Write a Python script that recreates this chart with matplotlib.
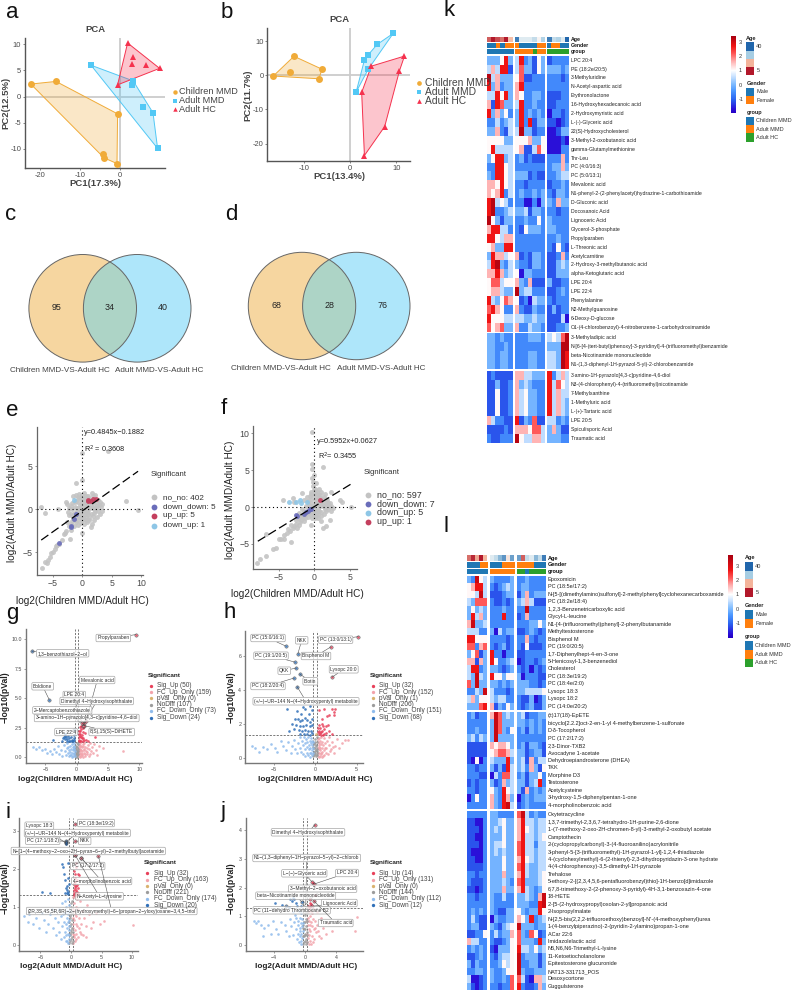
import matplotlib
matplotlib.use('Agg')
import matplotlib.pyplot as plt
import numpy as np
from matplotlib.colors import LinearSegmentedColormap, Normalize, to_rgba
from matplotlib.cm import ScalarMappable
from matplotlib.lines import Line2D
from matplotlib.patches import Circle, Rectangle

plt.rcParams['font.family'] = ['Liberation Sans', 'DejaVu Sans']
W, H = 792, 992
fig = plt.figure(figsize=(7.92, 9.92), dpi=100)

# ---------- PCA ----------
a_children = [(-22.3, 2.4), (-16, 2.9), (-0.6, -3.3), (-0.75, -12.8), (-4, -11.7), (-4.2, -11)]
a_mmd = [(-7.25, 6), (3.3, 3), (8.25, -3.1), (9.4, -9.9), (3, 2.3), (5.8, -1.9)]
a_hc = [(1.9, 10.25), (9.9, 5.4), (-0.6, 2.25), (3.3, 7.6), (3.1, 6.15), (6.4, 6.1)]
a_hulls = [5, 4, 3]
b_children = [(-16.7, -0.2), (-12.2, 5.6), (-6.1, 1.8), (-6.8, -1), (-13, 1)]
b_mmd = [(1.3, -4.9), (3.1, 4.5), (3.8, 5.85), (5.9, 9.1), (9.35, 12.3), (3.9, 1.75)]
b_hc = [(4.6, 2.7), (11.8, 5.65), (10.7, 1.3), (7.5, -15), (3.1, -23.5), (2.5, -5)]
b_hulls = [4, 6, 6]
pca_groups = ['Children MMD', 'Adult MMD', 'Adult HC']

# ---------- Venn ----------
venn_c = [95, 34, 40]
venn_d = [68, 28, 76]
venn_names = ['Children MMD-VS-Adult HC', 'Adult MMD-VS-Adult HC']

# ---------- Correlation scatter ----------
e_grey = [(-6.9,-6.8),(-6.4,-6.1),(-6.1,-6.3),(-5.9,-5.9),(-5.5,-5.5),(-5.3,-5.1),(-5,-5),(-4.7,-4.6),(-4.5,-4.3),(-4.3,-4.1),
(-4,-4),(-3.5,-3.6),(-3.2,-2.9),(-3,-2.7),(-2.8,-2.5),(-2.1,-3.5),(-2,-2.4),(-2.3,-1.9),(-2.6,-1.5),(-7.1,.3),(-6.3,-.4),(-4.2,0),
(9.5,-.05),(7.5,1),(0,6.5),(4.3,6.8),(-1.1,3),(-.1,3.4),(-.1,-2.8),(-1.2,-1.2),(-2.8,.8),(-2.6,.6),(-1.6,1.5),(-1,1.7),(-.6,1.8),(0,1.7),
(.3,1.9),(.6,1.5),(1,1.6),(1.6,1.9),(1.8,1.5),(2.2,1.7),(2.6,1.1),(3,.9),(3.2,.3),(3.4,-.2),(3,-.5),(2.5,-.9),(2,-1.2),(1.6,-1.7),
(1.5,-2.1),(.8,-1.5),(.3,-1.7),(-.2,-1.6),(-.7,-1.8),(-1.1,-1.5),(-1.7,-1.4),(-.8,.9),(-.4,.5),(-.1,.9),(.2,.3),(.4,.8),(.7,.4),(1,.1),
(1.4,.5),(1.7,.2),(2,.6),(2.4,.1),(2.7,-.2),(2,-.4),(1.5,-.5),(1,-.6),(.6,-.9),(.2,-.4),(-.2,-.2),(-.5,-.5),(-.9,-.2),(-1.2,.3),(-1.5,-.6),
(-1.8,0),(-2,.4),(-2.2,-.7),(-1.6,-1),(-.9,-.9),(-.3,-1),(.1,-.9),(.5,-.2),(.9,-.1),(1.3,1.1),(.1,1.2),(-.5,1.3),(-1.1,1),(.8,1),(2.8,.5),(3.4,.6),
(-.6,.1),(-.3,.2),(0,.5),(.3,.6),(.6,.7),(1.1,.9),(1.5,.9),(1.9,1),(2.3,.8),(.2,1),(-.2,1.3),(-.7,1.4),(-1.3,.8),(-1.7,.7),(-2.2,.2),(-2.5,-.3),(-1.9,-.5),(-1.3,-.4),(-.9,.2),(-.6,-.9),(-.1,-1.2),(.3,-1.1),(.7,-.5),(1.2,-1),(1.8,-.8),(2.2,-.2),(2.5,.4),(1.2,.3),(.8,-.3),(.4,.1),(.1,-.1),(-.3,-.6),(-.7,-1.2),(-1.4,-1.9),(-1.9,-1.7),(.6,-1.3),(1.1,-1.3),(1.9,.2),(.5,1.3),(1,1.3)]
e_down = [(-2,-2),(-1.9,-2.1),(-3.9,-3.9),(-1.4,-1.1),(-1,-.6)]
e_upup = [(1,1),(.9,1.1),(1.8,1.2),(2.3,1.2),(1.4,1)]
e_downup = [(-1.5,1.1)]
e_line = [(-7,-3.58),(9.5,4.42)]
f_grey = [(-8,-7.6),(-7.6,-7),(-6.8,-6.6),(-5.8,-5.7),(-5.3,-5.6),(-4.9,-4.4),(-4.6,-4.4),(-4.2,-4.4),(-6.8,-3.7),(-3.3,-4.7),(-.3,10.2),(-.3,5.8),
(-.3,5.2),(1.2,5.5),(5.2,0),(3.6,1),(3.9,.7),(2.3,2.1),(-4.4,.9),(-3,1.2),(-3.8,-3.5),(-3.4,-3.2),(-3,-2.9),(-2.8,-2.6),(-2.5,-2.3),(-2.2,-2.5),
(-2,-2),(-1.8,-1.7),(-1.6,-1.4),(-1.3,-1.5),(-1.1,-1),(-.9,-.8),(-.6,-.7),(-.5,-2.4),(-.3,-1.5),(-.2,-.4),(0,-.9),(.2,-1.2),(.5,-1.5),(.9,-1.9),
(1.2,-2.9),(1.7,-2.6),(2.2,-1.7),(2.3,-.6),(2.6,-.1),(2,.2),(1.6,.4),(1.2,.7),(.8,1.2),(.5,1.6),(.2,1.9),(-.1,2.3),(-.2,2.9),(-.2,3.4),(.3,3.2),
(.6,2.4),(1,2.1),(1.3,1.4),(1.8,1),(2.2,.5),(1.5,-.3),(1,-.7),(.5,-.3),(.1,.3),(-.4,.6),(-.8,.3),(-1.2,.2),(-1.7,-.3),(-2.1,-.8),(-1.4,-.6),(-.7,-.2),
(-2.9,.7),(-1.7,1.9),(-1,1.3),(-.5,1.1),(.1,.9),(.4,.4),(.8,.1),(1.2,.1),(1.7,-.6),(.4,-.7),(-.1,-.3),(-.4,-1.1),(-.9,-1.3),(-1.5,-1.9),(-3.7,-3),(.7,.7),(.2,1.4),(-.2,1.6),(-.6,1.5),(1.5,1.8),(.9,-1.2),(-.1,4.3),(-.3,3.9),
(-.2,.2),(.2,.6),(.5,.9),(.9,.5),(1.4,.2),(1.9,-.2),(1.3,-.9),(.7,-.6),(.2,-.6),(-.3,-.8),(-.7,-.5),(-1,-.5),(-1.4,-1.1),(-1.8,-1.1),(-2.3,-1.5),(-2.6,-1.8),(-.5,.2),(-.9,.8),(-1.4,.9),(.4,1.1),(.8,1.7),(.1,2.5),(.4,2),(-.4,2.1),(-.4,1.8),(1.1,1.1),(1.6,1.1),(1.9,.5),(2.4,.1),(.1,-1.5),(.5,-1),(-.1,-.7),(-2,-1.4),(-3.2,-2.4),(-2.4,-2.9),(-4.3,-3.8)]
f_down = [(-2.5,-1.1),(-2.4,-1.2),(-1.5,-.9),(-1.2,-.7),(-.9,-.6),(-.6,-.3),(-.4,-.2)]
f_downup = [(-3.5,.65),(-2.5,.75),(-2,.9),(-1,.7),(-1.9,.6)]
f_upup = [(.8,1)]
f_line = [(-7.9,-4.64),(5.1,3.1)]
corr_colors = {'no_no': '#c3c3c3', 'down_down': '#6a6dba', 'up_up': '#c43f5e', 'down_up': '#8ec6e6'}

# ---------- Volcano ----------
g_sigup = [(9.5,10.4),(1.5,3.1),(1.2,2.9),(1.1,2.7),(1,2.5),(.7,2.4),(.5,2.6),(.3,2.2),(.6,2),(.9,1.9),(.5,1.8),(.8,1.6),(.4,1.5),(.6,1.4),(1,1.4),(1.3,2.1),
(1.5,1.5),(1.8,1.4),(2.9,1.75),(.35,1.35),(.45,1.95),(.55,2.25),(.75,1.75),(1.05,1.65),(1.2,1.45),(.35,1.7),(.7,1.35),(.95,2.15),(.65,2.7),(.9,2.9)]
g_fcup = [(7.4,.55),(4.2,.8),(3.6,1),(3.1,.6),(2.8,1.1),(2.6,.4),(2.4,.85),(2.2,1.2),(2.1,.3),(1.9,.7),(1.8,1.05),(1.6,.25),(1.5,.55),(1.4,.9),(1.3,.15),(1.2,.4),(1.1,.7),
(1,1.1),(.9,.2),(.85,.5),(.8,.85),(.7,.1),(.65,.35),(.6,.65),(.55,.95),(.5,1.2),(.45,.15),(.4,.45),(.35,.75),(.3,1.05),(.3,.25),(.35,.55),(.4,.9),(.5,.3),(.6,.05),(.7,.6),(.8,.3),
(.95,.95),(1.05,.05),(1.25,.6),(1.35,.3),(1.7,.45),(2,.15),(2.3,.55),(3.2,.2),(.55,.7),(.75,1),(.45,1.1),(1.15,1.2),(1.65,.8)]
g_nodiff = [(-.2,.1),(-.15,.4),(-.1,.7),(-.05,1),(0,.2),(.05,.55),(.1,.85),(.15,1.15),(.2,.3),(-.2,.6),(-.1,.15),(0,.45),(.1,.05),(.2,.7),(-.15,.9),(.05,.25),(.15,.5),(-.05,.6),(0,1.2),(-.2,.3),(.1,.35),(-.1,.05)]
g_fcdown = [(-7,.9),(-6.5,.75),(-6.1,.85),(-5.6,.6),(-5.1,.7),(-4.7,.4),(-4.3,.55),(-4,.25),(-3.7,.7),(-3.3,.45),(-3,.95),(-2.8,.3),(-2.5,.65),(-2.3,.15),(-2.1,1.05),(-1.9,.5),(-1.7,.2),(-1.6,.8),
(-1.5,1.2),(-1.4,.35),(-1.3,.6),(-1.2,.1),(-1.1,.95),(-1,.45),(-.9,.7),(-.85,.2),(-.8,1.1),(-.7,.35),(-.65,.6),(-.6,.85),(-.55,.1),(-.5,.4),(-.45,1),(-.4,.25),(-.35,.7),(-.3,.5),(-.3,.15),(-.35,1.2),(-.5,.75),(-.7,.05),(-1,.2),(-1.35,.9),(-.4,.9)]
g_sigdown = [(-7.2,9),(-4.4,4.9),(-1.9,1.8),(-1.8,1.95),(-2,1.7),(-1.7,1.75),(-1.5,1.55),(-1.3,1.6),(-1.2,1.4),(-3.8,1.45),(-2.2,1.6),(-1.9,1.55),(-1,1.35),(-.8,1.5),(-.5,1.6),(-.6,1.4),(-.35,2.3),(-1.6,1.4),(-.4,1.45),(-.9,1.7),(-1.4,1.8),(-2.3,1.4),(-.7,1.35),(-.45,1.9)]
g_labels = [('Propylparaben',113.3,638,9.5,10.4),('1,3−benzothiazol−2−ol',62.7,653.3,-7.2,9),('Mevalonic acid',97.3,680,1.5,3.1),('Boldione',42.7,686.3,-4.4,4.9),
('LPE 20:4',74.3,695,.4,3.2),('Dimethyl 4−Hydroxyisophthalate',96.7,701,1.2,2.9),('2−Mercaptobenzothiazole',62.3,710.3,.9,2.9),
('3−amino−1H−pyrazolo[4,3−c]pyridine−4,6−diol',86.7,718,1,2.7),('LPE 22:4',66,732,-.35,2.3),('8(S),15(S)−DiHETE',111.7,732,1.1,2.7)]

h_sigup = [(5.2,7.15),(1.9,6.55),(2,4.75),(2.4,2.9),(2.3,2.7),(2,2.85),(2.2,2.55),(1.7,2.5),(1.1,2.85),(.5,2.8),(1.4,2.45),(.8,2.3),(.6,1.75),(.9,1.85),(.5,1.6),(.7,1.5),(1,1.4),(1.3,1.45),(1.6,1.6),(.4,1.4),(.45,1.95),(.85,1.6),(1.1,1.7),(2,1.4),(.35,1.75),(.65,1.35),(1.25,1.9),(.75,2),(.55,1.45),(.95,1.35),(.35,1.5),(1.5,1.95)]
h_fcup = [(4,1.05),(3.6,1.05),(3.2,.85),(2.9,.55),(2.6,1.1),(2.4,.7),(2.2,.3),(2,.95),(1.9,.5),(1.7,1.2),(1.6,.75),(1.5,.2),(1.4,1),(1.3,.55),(1.2,.85),(1.1,.15),(1,1.15),(1,.45),(.95,.75),(.9,.1),(.85,.95),(.8,.35),(.75,.6),(.7,1.2),(.7,.2),(.65,.8),(.6,.45),(.6,1),(.55,.1),
(.5,.65),(.5,.3),(.45,.85),(.45,1.15),(.4,.05),(.4,.5),(.4,.75),(.35,.25),(.35,.95),(.3,.6),(.3,.1),(.3,1.1),(.55,.55),(.65,.3),(.75,.05),(1.15,.6),(1.35,.3),(1.75,.4),(2.1,.65)]
h_nodiff = [(-.25,.1),(-.2,.35),(-.15,.6),(-.1,.85),(-.05,1.1),(0,.2),(.05,.45),(.1,.7),(.15,.95),(.2,1.2),(.25,.15),(-.2,.8),(-.1,.3),(0,.55),(.1,.1),(.2,.5),(-.25,.65),(-.05,.4),(.05,.75),(.15,.25),(0,.95),(-.15,.15),(.25,.4)]
h_fcdown = [(-7.6,.7),(-7.3,.6),(-6.8,.35),(-6.3,.65),(-5.8,.5),(-5.3,.8),(-4.9,.55),(-4.6,.35),(-4.2,1),(-3.9,.7),(-3.6,.45),(-3.3,.95),(-3,.3),(-2.8,.7),(-2.6,1.05),(-2.4,.5),(-2.2,.25),(-2.1,.85),(-1.9,1.2),(-1.8,.6),
(-1.7,.35),(-1.6,1),(-1.5,.75),(-1.45,.2),(-1.4,1.25),(-1.3,.5),(-1.25,.85),(-1.2,.1),(-1.1,1.1),(-1.05,.65),(-1,.3),(-.95,.9),(-.9,.15),(-.85,1.2),(-.8,.5),(-.75,.75),(-.7,.25),(-.65,1),(-.6,.05),(-.6,.6),(-.55,.85),(-.5,.3),(-.5,1.15),(-.45,.45),(-.4,.75),(-.35,.15),(-.35,1),(-.3,.55),(-.3,.3),(-.3,.9)]
h_sigdown = [(-3.6,6.6),(-2.1,6.15),(-2.5,5.65),(-2.3,5.3),(-1.9,4.95),(-2.6,4.7),(-2.2,4.2),(-3.4,2.9),(-2.2,2.75),(-1.5,3),(-.6,3.05),(-.4,2.8),(-.8,2.6),(-1.2,2.9),(-1.7,2.6),(-2.5,2.3),(-2.1,2.3),(-1.9,2.15),(-1.6,2.2),(-1.3,2.35),(-1,2.2),(-.7,2.1),(-.4,2.3),(-2.8,2),(-2.3,1.95),(-1.8,1.9),
(-1.5,1.85),(-1.1,1.95),(-.6,1.85),(-.35,1.95),(-2.6,1.7),(-2,1.65),(-1.6,1.6),(-1.2,1.65),(-.9,1.55),(-.5,1.6),(-.35,1.45),(-3.2,1.55),(-1.9,1.4),(-1.4,1.4),(-1,1.4),(-.7,1.35)]
h_pval = [(.1,1.4)]
h_labels = [('PC (15:0/16:1)',268,638,-3.6,6.6),('NKK',301.7,640.3,-2.1,6.15),('PC (13:0/13:1)',335.7,639.7,5.2,7.15),('PC (19:1/20:5)',271,655.7,-2.5,5.65),('Bisphenol M',316,656,1.9,6.55),
('QKK',284.3,670.7,-2.3,5.3),('Lysopc 20:0',343.7,669.3,2,4.75),('Biotin',310.3,681.3,-1.9,4.95),('PC (18:2/20:4)',268,686,-2.6,4.7),('(+/−)−UR−144 N−(4−Hydroxypentyl) metabolite',306,701.3,-2.2,4.2)]

i_sigup = [(.7,3.17),(.7,2.72),(.7,2.35),(1.7,2.28),(4.5,2.33),(.9,2.05),(1.1,1.85),(1.3,1.83),(.7,1.75),(.8,1.55),(1,1.58),(.6,1.5),(.75,1.4),(.9,1.45),(1.1,1.5),(.65,1.33),(.5,1.95),(.85,1.32),(1,1.33),(.55,1.6),(.95,1.7),(1.2,1.35),(.45,1.45),(.6,1.85),(.75,2.15),(.5,1.35),(.7,1.65),(.8,1.35),(.65,1.55),(.9,1.35),(1.05,1.4),(.55,1.32)]
i_fcup = [(10.1,.53),(5.4,.62),(4.7,.55),(4.1,.85),(3.6,.6),(3.2,.45),(2.9,.8),(2.6,1.05),(2.4,.5),(2.1,.7),(2,.25),(1.8,.9),(1.6,.55),(1.5,1.15),(1.4,.35),(1.3,.7),(1.2,.95),(1.1,.2),(1,.5),(.95,1.2),(.9,.75),(.85,.3),(.8,1),(.75,.55),(.7,.1),(.65,.8),(.6,.4),(.55,1.1),(.5,.2),(.5,.65),(.45,.9),(.4,.05),(.4,.45),(.35,1.25),(.35,.7),(.3,.3),(.3,.95),(.3,.55),(.6,1.25),(.9,.15),(1.25,.45),(.45,.25),(1.7,.3),(2.5,.2)]
i_nodiff = [(-.25,.05),(-.2,.25),(-.15,.5),(-.1,.75),(-.05,1),(0,.15),(.05,.4),(.1,.65),(.15,.9),(.2,1.15),(.25,.1),(-.2,.7),(-.1,.3),(0,.55),(.1,.05),(.2,.45),(-.25,.6),(-.05,.35),(.05,.8),(.15,.2),(0,1.1),(-.15,.1),(.25,.35),(.2,.85)]
i_fcdown = [(-7.7,.75),(-7.1,.6),(-6.8,.8),(-6.2,.55),(-5.8,.7),(-5.2,.45),(-4.8,.85),(-4.4,.65),(-4.1,.35),(-3.7,.55),(-3.4,.8),(-3.1,.95),(-2.9,.45),(-2.6,.7),(-2.4,.25),(-2.2,.6),(-2,.95),(-1.9,.35),(-1.7,.75),(-1.6,.15),(-1.5,1.1),(-1.4,.5),(-1.3,.8),(-1.2,.2),(-1.1,.6),(-1.05,1.15),(-1,.35),(-.95,.85),(-.9,.1),
(-.85,.55),(-.8,1),(-.75,.25),(-.7,.7),(-.65,.45),(-.6,.1),(-.6,.9),(-.55,1.2),(-.5,.3),(-.5,.6),(-.45,.05),(-.45,.8),(-.4,1.05),(-.4,.4),(-.35,.65),(-.35,.15),(-.3,.9),(-.3,.5),(-.3,.25)]
i_sigdown = [(-.9,2.68),(-.85,2.72),(-.75,2.7),(-.8,2.65),(-1.4,2.12),(-1.3,2.05),(-1.2,1.85),(-.5,2.15),(-1,1.7),(-.5,1.75),(-.6,1.55),(-.9,1.5),(-1,1.35),(-.55,1.4),(-4.8,1.38),(-3.4,1.35),(-.7,1.35),(-.4,1.6),(-.45,1.33),(-.65,1.45)]
i_labels = [('PC (18:3e/19:2)',96,823,.7,3.17),('Lysopc 18:3',39.3,825.7,-.9,2.68),('(+/−)−UR−144 N−(4−Hydroxypentyl) metabolite',77.3,833,-.8,2.7),('PC (17:1/18:2)',42.7,840.7,-.75,2.72),('NKK',84.7,841,.7,2.72),
('N−[1−(4−methoxy−2−oxo−2H−pyran−6−yl)−2−methylbutyl]acetamide',88.3,851,.7,2.35),('PC (17:2/17:2)',87.7,866,1.7,2.28),('4−morpholinobenzoic acid',101.7,881,1.7,2.28),('N−Acetyl−L−tyrosine',99.3,896.3,.7,2.35),
('(2R,3S,4S,5R,6R)−2−(hydroxymethyl)−6−(propan−2−yloxy)oxane−3,4,5−triol',111.7,911,4.5,2.33)]

j_sigup = [(1.3,4.2),(.9,2.2),(1,2.15),(1.1,2.12),(.7,1.6),(.6,1.45),(.5,1.3),(.7,1.32),(.9,1.35),(1.1,1.55),(.4,1.35),(.8,1.42),(1.3,1.75),(.65,1.35)]
j_fcup = [(6.6,.98),(6.4,.5),(3.5,.5),(3,.75),(2.7,.4),(2.3,.6),(2,.95),(1.8,.3),(1.6,.7),(1.5,1.15),(1.4,.45),(1.3,.85),(1.2,.2),(1.15,1.25),(1.1,.55),(1.05,.9),(1,.1),(.95,.65),(.9,1.1),(.85,.3),(.8,.8),(.75,1.2),(.7,.5),(.65,.15),(.65,1),(.6,.7),(.55,.35),(.5,1.2),(.5,.85),(.45,.05),(.45,.55),(.4,.95),(.4,.25),(.35,1.15),(.35,.7),(.3,.4),(.3,.1),(.3,.85),(.8,.05),(1.25,.6),(2.1,.25),(1.7,.5)]
j_nodiff = [(-.25,.05),(-.2,.3),(-.15,.55),(-.1,.8),(-.05,1.05),(0,.15),(.05,.4),(.1,.65),(.15,.9),(.2,1.15),(.25,.1),(-.2,.7),(-.1,.3),(0,.55),(.1,.05),(.2,.45),(-.25,.6),(-.05,.35),(.05,.8),(.15,.2),(0,1.1),(-.15,.1),(.25,.35),(.2,.85)]
j_fcdown = [(-6.6,.85),(-6.3,.75),(-6,.85),(-5.7,.7),(-5.3,.6),(-5.4,.3),(-4.7,.7),(-4.4,.4),(-4.1,.85),(-3.7,.55),(-3.4,.4),(-3.1,.8),(-2.6,.7),(-2.4,.5),(-2.1,.3),(-1.9,.9),(-1.8,.65),(-1.6,1.15),(-1.5,.35),(-1.4,.8),(-1.3,1.05),(-1.2,.55),(-1.1,.95),(-1,.2),(-.95,.7),(-.9,.4),(-.85,.85),(-.8,1.2),(-.75,.1),(-.7,.6),(-.65,.3),(-.65,.95),(-.6,.5),(-.55,.75),(-.55,.15),(-.5,1.1),(-.45,.4),(-.45,.05),(-.4,.65),(-.35,.25),(-.35,.9),(-.3,.5),(-.3,.75)]
j_sigdown = [(-3.9,1.45),(-2.9,1.4),(-2.4,1.35),(-1.9,1.6),(-1.7,1.55),(-1.5,1.65),(-1.4,1.6),(-1.1,1.45),(-.4,1.5),(-.5,1.35),(-1,1.35),(-2.1,1.33)]
j_labels = [('Dimethyl 4−Hydroxyisophthalate',308,832.3,1.3,4.2),('N1−(1,3−diphenyl−1H−pyrazol−5−yl)−2−chlorob',306.7,858,.1,1.4),('L−(−)−Glyceric acid',304.3,873.3,.9,2.2),('LPC 20:4',347,873,1.1,2.12),
('3−Methyl−2−oxobutanoic acid',322.7,888.7,.7,1.6),('beta−Nicotinamide mononucleotide',295.7,895.7,-.4,1.5),('Lignoceric Acid',339.3,903,.9,1.35),('PC (11−dehydro Thromboxane B2',291.7,910.3,-2.4,1.35),('Traumatic acid',335.7,923,1.1,1.55)]

volcano_names = ['Sig_Up', 'FC_Up_Only', 'pVal_Only', 'NoDiff', 'FC_Down_Only', 'Sig_Down']
g_counts = [50, 159, 0, 107, 73, 24]
h_counts = [32, 152, 1, 206, 151, 68]
i_counts = [32, 163, 0, 221, 174, 20]
j_counts = [14, 131, 0, 144, 112, 12]
volc_colors = ['#e8405a', '#f2a3ab', '#d9b26e', '#9c9c9c', '#8fbbec', '#2f6fb8']

# ---------- Heatmap k ----------
k_rows_1 = ['LPC 20:4','PE (18:2e/20:5)','3-Methyluridine','N-Acetyl-aspartic acid','Erythronolactone','16-Hydroxyhexadecanoic acid','2-Hydroxymyristic acid','L-(-)-Glyceric acid','22(S)-Hydroxycholesterol','3-Methyl-2-oxobutanoic acid','gamma-Glutamylmethionine','Thr-Leu','PC (4:0/16:3)','PC (5:0/13:1)','Mevalonic acid','N1-phenyl-2-(2-phenylacetyl)hydrazine-1-carbothioamide','D-Gluconic acid','Docosanoic Acid','Lignoceric Acid','Glycerol-3-phosphate','Propylparaben','L-Threonic acid','Acetylcarnitine','2-Hydroxy-3-methylbutanoic acid','alpha-Ketoglutaric acid','LPE 20:4','LPE 22:4','Phenylalanine','N2-Methylguanosine','6-Deoxy-D-glucose','O1-(4-chlorobenzoyl)-4-nitrobenzene-1-carbohydroximamide']
k_vals_1 = ['333583 4823153 12222','464881 4733153 33323','946333 5711222 22212','836233 6822222 22222','448583 6522332 11122','618733 4822322 11222','836352 3823232 02212','224234 3828133 11012','336214 4933122 00133','555533 5556335 00010','584444 5611475 00022','358834 2312111 22262','228854 2222222 23363','328854 3331211 22344','665854 2212222 12232','656824 2322323 21332','894542 2200203 32633','892234 3341332 22122','953133 2232252 32222','688442 2153332 33222','885466 2222222 22322','563388 2222222 21521','386645 6121332 11262','489324 3221332 11343','668634 5033222 11333','577455 6326111 31122','566433 9344222 11232','843576 5120433 21222','786522 6211322 13122','855544 4433433 11140','756733 6224332 11223']
k_rows_2 = ['3-Methyladipic acid','N-[6-[4-(tert-butyl)phenoxy]-3-pyridinyl]-4-(trifluoromethyl)benzamide','beta-Nicotinamide mononucleotide','N1-(1,3-diphenyl-1H-pyrazol-5-yl)-2-chlorobenzamide']
k_vals_2 = ['332322 2223332 45479','332232 2222222 33399','332332 2223322 44398','332332 2223322 44398']
k_rows_3 = ['3-amino-1H-pyrazolo[4,3-c]pyridine-4,6-diol','N3-(4-chlorophenyl)-4-(trifluoromethyl)nicotinamide','7-Methylxanthine','1-Methyluric acid','L-(+)-Tartaric acid','LPE 20:5','Spiculisporic Acid','Traumatic acid']
k_vals_3 = ['121111 6644333 82464','113112 6343222 84754','115112 6453322 84644','115112 6453322 84643','115112 6453322 84643','642211 8132711 44232','111121 6665774 36311','211222 9544664 33322']
k_age = [[9,5,8,10,5,15],[38,25,25,25,28,22,30],[38,28,30,25,40]]
k_gender = ['MMFMFF','FMMMMFF','MFFMM']
k_group = ['CCCCCC','AAAAHAA','HHHHH']

# ---------- Heatmap l ----------
l_rows_1 = ['Epoxomicin','PC (18:5e/17:2)','N-[5-[(dimethylamino)sulfonyl]-2-methylphenyl]cyclohexanecarboxamide','PC (18:2e/18:4)','1,2,3-Benzenetricarboxylic acid','Glycyl-L-leucine','N1-[4-(trifluoromethyl)phenyl]-2-phenylbutanamide','Methyltestosterone','Bisphenol M','PC (19:0/20:5)','1,7-Diphenylhept-4-en-3-one','5-Henicosyl-1,3-benzenediol','Cholesterol','PC (18:3e/19:2)','PC (18:4e/2:0)','Lysopc 18:3','Lysopc 18:2','PC (14:0e/20:2)']
l_vals_1 = ['32954 322223 2232222','56884 212343 2332222','55494 111233 1362333','43777 211212 3464111','35343 222322 2292222','38463 222822 1262222','69334 222222 2223353','44422 304233 1123212','88555 222212 2262122','77267 212312 2151112','35713 822022 1122222','66163 852234 0122123','48823 332123 2120212','43943 855355 3022211','73933 332323 3332212','22439 422212 3344445','46355 434422 2113013','33378 613253 2123113']
l_rows_2 = ['(±)17(18)-EpETE','bicyclo[2.2.2]oct-2-en-1-yl 4-methylbenzene-1-sulfonate','D-δ-Tocopherol','PC (17:2/17:2)','2,3-Dinor-TXB2','Avocadyne 1-acetate','Dehydroepiandrosterone (DHEA)','TKK','Morphine D3','Testosterone','Acetylcysteine','3-hydroxy-1,5-diphenylpentan-1-one','4-morpholinobenzoic acid']
l_vals_2 = ['23122 697343 3412233','22222 397333 3323232','22322 397325 2313232','34243 393333 2222222','11111 656653 2313321','11111 567764 3312331','10502 433383 3416244','22122 313184 3426315','22211 042774 2313352','12122 312634 3313482','22122 532854 3162323','02522 632863 0232333','22222 632894 1232222']
l_rows_3 = ['Oxytetracycline','1,3,7-trimethyl-2,3,6,7-tetrahydro-1H-purine-2,6-dione','1-(7-methoxy-2-oxo-2H-chromen-8-yl)-3-methyl-2-oxobutyl acetate','Camptothecin','2-(cyclopropylcarbonyl)-3-(4-fluoroanilino)acrylonitrile','3-phenyl-5-[3-(trifluoromethyl)-1H-pyrazol-1-yl]-1,2,4-thiadiazole','4-(cyclohexylmethyl)-6-(2-thienyl)-2,3-dihydropyridazin-3-one hydrate','4-(4-chlorophenoxy)-3,5-dimethyl-1H-pyrazole','Trehalose','5-ethoxy-2-[(2,3,4,5,6-pentafluorobenzyl)thio]-1H-benzo[d]imidazole','6,7,8-trimethoxy-2-(2-phenoxy-3-pyridyl)-4H-3,1-benzoxazin-4-one','18-HETE','2-[5-(2-hydroxypropyl)oxolan-2-yl]propanoic acid','2-Isopropylmalate','N-[2,5-bis(2,2,2-trifluoroethoxy)benzoyl]-N\'-(4-methoxyphenyl)urea','1-(4-benzylpiperazino)-2-(pyridin-2-ylamino)propan-1-one','ACar 22:6','Imidazolelactic acid','N6,N6,N6-Trimethyl-L-lysine','11-Ketoetiocholanolone','Epitestosterone glucuronide','NAT13-331713_POS','Desoxycortone','Guggulsterone']
l_vals_3 = ['22222 332222 7942322','11002 334533 6844344','11102 343533 6854344','11002 333533 6844345','11102 344533 7844244','10002 343433 7844344','11002 333533 6854344','11112 333533 7843344','22122 333633 6843345','21112 333432 7833345','11012 333633 6843235','22122 322422 3343269','22222 322222 3332289','23232 321133 5323385','24211 032233 6538234','23311 321345 9333233','11225 242336 7327512','64422 211235 7333283','23232 103335 8443534','11232 213445 9233313','31322 223545 9223313','22332 322355 9322333','40012 322327 7410664','31012 221227 8211263']
l_age = [[10,6,13,5,14],[25,28,33,36,20,35],[35,9,28,25,33,28,38]]
l_gender = ['MMMFF','MMMFFF','FFFFMMM']
l_group = ['CCCCC','AAAAAA','HHCHHHH']

cmap_nodes = [(-2.0,'#2400c4'),(-1.7,'#2a10d8'),(-1.05,'#2a62f0'),(-.45,'#4a96ff'),(.05,'#80bcff'),(.55,'#c6e0ff'),(1,'#ffffff'),(1.6,'#ffb4b4'),(2.15,'#ff5a5a'),(2.7,'#f01414'),(3.74,'#a80010')]
SWATCH = {'M': '#1f77b4', 'F': '#ff7f0e', 'C': '#1f77b4', 'A': '#ff7f0e', 'H': '#2ca02c'}
age_cmap = LinearSegmentedColormap.from_list('age', ['#b2182b', '#f4b49b', '#f7f7f7', '#a6cde3', '#2166ac'])


def axpx(l, t, r, b):
    return fig.add_axes([l / W, 1 - b / H, (r - l) / W, (b - t) / H])


def T(x, y, s, **kw):
    kw.setdefault('va', 'center')
    kw.setdefault('ha', 'left')
    return fig.text(x / W, 1 - y / H, s, **kw)


def mark(x, y, color, marker='o', ms=4, **kw):
    fig.add_artist(Line2D([x / W], [1 - y / H], marker=marker, color=color, ms=ms, ls='', mew=0, transform=fig.transFigure, **kw))


def classic(ax, xlim, ylim, xt, yt, ts, col='#555555', lw=1.0):
    ax.set_xlim(*xlim); ax.set_ylim(*ylim)
    ax.set_xticks(xt); ax.set_yticks(yt)
    for s in ('top', 'right'):
        ax.spines[s].set_visible(False)
    for s in ('left', 'bottom'):
        ax.spines[s].set_color(col); ax.spines[s].set_linewidth(lw)
    ax.tick_params(labelsize=ts, length=1.5, width=.5, color=col, labelcolor='#4a4a4a', pad=1.2)
    ax.patch.set_alpha(0)


for s, x, y in [('a',12,12),('b',227,12),('k',449,11),('c',11,214),('d',231,214),('e',12,411),('f',224,409),('l',446,527),('g',12,614),('h',230,613),('i',8,812),('j',223,812)]:
    T(x, y, s, fontsize=16, ha='center', color='#111111')

# ---------- PCA panels ----------
PCA_COL = ['#f0ab38', '#52c8f5', '#f5324e']
PCA_MK = [('o', 5), ('s', 4.6), ('^', 4.0)]


def pca(rect, groups, hulls, xlim, ylim, xt, yt, ts):
    ax = axpx(*rect)
    classic(ax, xlim, ylim, xt, yt, ts)
    ax.set_xticklabels([str(v) for v in xt])
    ax.set_yticklabels([str(v) for v in yt])
    ax.axhline(0, color='#cccccc', lw=1.3, zorder=1)
    ax.axvline(0, color='#cccccc', lw=1.3, zorder=1)
    for pts, n, c, (m, ms) in zip(groups, hulls, PCA_COL, PCA_MK):
        arr = np.array(pts)
        ax.fill(arr[:n, 0], arr[:n, 1], fc=to_rgba(c, .28), ec=c, lw=.7, zorder=2)
        ax.plot(arr[:, 0], arr[:, 1], ls='', marker=m, ms=ms, color=c, mew=0, zorder=3, clip_on=False)
    return ax


pca((25, 38, 165, 168.3), [a_children, a_mmd, a_hc], a_hulls, (-23.75, 11.25), (-13.7, 11.2), [-20, -10, 0], [-10, -5, 0, 5, 10], 5.4)
pca((267.3, 28.3, 410, 161.3), [b_children, b_mmd, b_hc], b_hulls, (-18, 13), (-25.2, 13.8), [-10, 0, 10], [-20, -10, 0, 10], 5.4)
hdr = dict(fontweight='bold', color='#444444', ha='center')
T(95, 30, 'PCA', fontsize=6.8, **hdr)
T(95, 183, 'PC1(17.3%)', fontsize=6.8, **hdr)
T(5.5, 103, 'PC2(12.5%)', fontsize=6.8, rotation=90, **hdr)
T(339, 20, 'PCA', fontsize=6.8, **hdr)
T(339, 176, 'PC1(13.4%)', fontsize=6.8, **hdr)
T(247.5, 95, 'PC2(11.7%)', fontsize=6.8, rotation=90, **hdr)
for i, (n, y, y2) in enumerate(zip(pca_groups, (92, 100.7, 109.3), (83, 92, 101))):
    m = ['o', 's', '^'][i]
    mark(174.7, y, PCA_COL[i], m, 3.2)
    T(179.3, y, n, fontsize=6.6, color='#444444')
    mark(419, y2, PCA_COL[i], m, 3.4)
    T(425, y2, n, fontsize=7.4, color='#444444')

# ---------- Venn ----------
ov = fig.add_axes([0, 0, 1, 1])
ov.set_xlim(0, W); ov.set_ylim(H, 0); ov.axis('off'); ov.patch.set_alpha(0)


def venn(cx1, cx2, cy, r, vals, names, lx, ly):
    c1 = Circle((cx1, cy), r, fc='#f6d6a0', ec='none')
    c2 = Circle((cx2, cy), r, fc='#aee6fa', ec='none')
    c3 = Circle((cx2, cy), r, fc='#add4c6', ec='none')
    ov.add_patch(c1); ov.add_patch(c2); ov.add_patch(c3)
    c3.set_clip_path(Circle((cx1, cy), r, transform=ov.transData))
    ov.add_patch(Circle((cx1, cy), r, fc='none', ec='#666666', lw=.7))
    ov.add_patch(Circle((cx2, cy), r, fc='none', ec='#666666', lw=.7))
    mid = (cx1 + cx2) / 2
    for x, v in zip((cx1 - 26, mid, cx2 + 26), vals):
        ov.text(x, cy - 1, str(v), fontsize=6.4, ha='center', va='center', color='#222222')
    ov.text(lx[0], ly, names[0], fontsize=5.9, ha='center', va='center', color='#444444')
    ov.text(lx[1], ly, names[1], fontsize=5.9, ha='center', va='center', color='#444444')


venn(82.7, 137.2, 308.3, 53.8, venn_c, venn_names, (60, 159), 370.3)
venn(302, 356.3, 306, 53.7, venn_d, venn_names, (281, 381), 368)


# ---------- Correlation ----------
def corr(rect, xlim, ylim, xt, yt, groups, line):
    ax = axpx(*rect)
    classic(ax, xlim, ylim, xt, yt, 6.3, col='#666666', lw=.9)
    for pts, name in groups:
        arr = np.array(pts)
        ax.scatter(arr[:, 0], arr[:, 1], s=12.5, c=corr_colors[name], alpha=.9, linewidths=0, zorder=3, clip_on=False)
    ax.axhline(0, color='black', lw=.8, ls=(0, (1, 2.5)), zorder=4)
    ax.axvline(0, color='black', lw=.8, ls=(0, (1, 2.5)), zorder=4)
    ln = np.array(line)
    ax.plot(ln[:, 0], ln[:, 1], color='black', lw=.9, ls=(0, (7, 3)), zorder=5)


corr((36.7, 426.7, 142.7, 575), (-7.77, 10.29), (-7.64, 9.6), [-5, 0, 5, 10], [-5, 0, 5],
     [(e_grey, 'no_no'), (e_down, 'down_down'), (e_upup, 'up_up'), (e_downup, 'down_up')], e_line)
corr((253.3, 426, 356.7, 569), (-8.53, 5.93), (-8.41, 11), [-5, 0, 5], [-5, 0, 5, 10],
     [(f_grey, 'no_no'), (f_down, 'down_down'), (f_downup, 'down_up'), (f_upup, 'up_up')], f_line)
T(84, 433, 'y=0.4845x−0.1882', fontsize=5.3, color='#222222')
T(84, 449, 'R$^2$ = 0.3608', fontsize=5.3, color='#222222')
T(316.7, 441.7, 'y=0.5952x+0.0627', fontsize=5.3, color='#222222')
T(317.7, 456, 'R$^2$= 0.3455', fontsize=5.3, color='#222222')
T(150.7, 474.3, 'Significant', fontsize=5.6, color='#333333')
T(364, 472.3, 'Significant', fontsize=5.6, color='#333333')
e_leg = [('no_no: 402', 'no_no'), ('down_down: 5', 'down_down'), ('up_up: 5', 'up_up'), ('down_up: 1', 'down_up')]
f_leg = [('no_no: 597', 'no_no'), ('down_down: 7', 'down_down'), ('down_up: 5', 'down_up'), ('up_up: 1', 'up_up')]
for (t, k), y in zip(e_leg, (497.3, 506.7, 515.7, 525.7)):
    mark(154.3, y, corr_colors[k], 'o', 4.2)
    T(163, y, t, fontsize=5.9, color='#333333')
for (t, k), y in zip(f_leg, (495, 503.7, 512.7, 521.7)):
    mark(367.7, y, corr_colors[k], 'o', 4.2)
    T(376.7, y, t, fontsize=6.4, color='#333333')
lab = dict(fontsize=7.2, color='#222222', ha='center')
T(12, 503, 'log2(Adult MMD/Adult HC)', rotation=90, **lab)
T(230, 500, 'log2(Adult MMD/Adult HC)', rotation=90, **lab)
T(82, 600.7, 'log2(Children MMD/Adult HC)', **lab)
T(297.3, 594, 'log2(Children MMD/Adult HC)', **lab)


# ---------- Volcano ----------
def volcano(rect, xlim, ylim, xt, yt, ytl, cats, labels, counts, hl, leg, ylab, xlab):
    ax = axpx(*rect)
    classic(ax, xlim, ylim, xt, yt, 3.8, col='#777777', lw=1.0)
    ax.set_yticklabels(ytl)
    for pts, c in cats:
        if len(pts):
            arr = np.array(pts)
            ax.scatter(arr[:, 0], arr[:, 1], s=3.6, c=c, alpha=.85, linewidths=0, zorder=3)
    ax.axhline(hl, color='#444444', lw=.5, ls=(0, (3, 2)), zorder=2)
    for v in (-.25, .25):
        ax.axvline(v, color='#444444', lw=.5, ls=(0, (3, 2)), zorder=2)
    for s, px, py, x, y in labels:
        ax.plot([x], [y], 'o', ms=2.4, mfc='none', mec='#333333', mew=.3, zorder=4)
        ax.annotate(s, xy=(x, y), xycoords='data', xytext=(px, H - py), textcoords='figure pixels', ha='center', va='center',
                    fontsize=3.55, color='#333333', zorder=6, annotation_clip=False,
                    bbox=dict(boxstyle='round,pad=0.25', fc=(1, 1, 1, .75), ec='#a5a5a5', lw=.5),
                    arrowprops=dict(arrowstyle='-', color='#555555', lw=.4, shrinkA=0, shrinkB=0))
    tx, ty, mx, txt = leg['tx'], leg['ty'], leg['mx'], leg['txt']
    T(tx, ty, 'Significant', fontsize=4.6, fontweight='bold', color='#222222')
    for n, cnt, c, y in zip(volcano_names, counts, volc_colors, leg['ys']):
        mark(mx, y, c, 'o', 2.4)
        T(txt, y, f'{n} ({cnt})', fontsize=4.7, color='#444444')
    T(ylab[0], ylab[1], '−log10(pVal)', fontsize=6.2, fontweight='bold', rotation=90, ha='center', color='#222222')
    T(xlab[0], xlab[1], xlab[2], fontsize=5.9, fontweight='bold', ha='center', color='#222222')


ys_g = (685.7, 692, 698.3, 704.7, 711, 717.7)
volcano((26, 629, 141.7, 763.3), (-8.1, 10.4), (-.5, 10.87), [-5, 0, 5, 10], [0, 2.5, 5, 7.5, 10], ['0.0', '2.5', '5.0', '7.5', '10.0'],
        [(g_fcup, volc_colors[1]), (g_nodiff, volc_colors[3]), (g_fcdown, volc_colors[4]), (g_sigup, volc_colors[0]), (g_sigdown, volc_colors[5])],
        g_labels, g_counts, 1.27, dict(tx=147.7, ty=675.3, mx=150.7, txt=157.3, ys=ys_g), (5.5, 696.7), (75.5, 779.3, 'log2(Children MMD/Adult HC)'))
volcano((245, 630.7, 363.3, 763.3), (-8.5, 5.8), (-.33, 7.5), [-5, 0, 5], [0, 2, 4, 6], ['0', '2', '4', '6'],
        [(h_fcup, volc_colors[1]), (h_nodiff, volc_colors[3]), (h_fcdown, volc_colors[4]), (h_pval, volc_colors[2]), (h_sigup, volc_colors[0]), (h_sigdown, volc_colors[5])],
        h_labels, h_counts, 1.32, dict(tx=370, ty=675, mx=372.7, txt=379.3, ys=ys_g), (231, 696.7), (315.3, 779.3, 'log2(Children MMD/Adult HC)'))
ys_i = (873.3, 879.7, 886, 892.3, 898.7, 905.3)
volcano((19.3, 818.3, 137.7, 951), (-8.47, 10.93), (-.157, 3.32), [-5, 0, 5, 10], [0, 1, 2, 3], ['0', '1', '2', '3'],
        [(i_fcup, volc_colors[1]), (i_nodiff, volc_colors[3]), (i_fcdown, volc_colors[4]), (i_sigup, volc_colors[0]), (i_sigdown, volc_colors[5])],
        i_labels, i_counts, 1.31, dict(tx=144, ty=862.3, mx=147, txt=153.7, ys=ys_i), (5.5, 888), (71, 966.7, 'log2(Adult MMD/Adult HC)'))
volcano((245.7, 818.3, 363.3, 951), (-7.6, 7.47), (-.21, 4.42), [-4, 0, 4], [0, 1, 2, 3, 4], ['0', '1', '2', '3', '4'],
        [(j_fcup, volc_colors[1]), (j_nodiff, volc_colors[3]), (j_fcdown, volc_colors[4]), (j_sigup, volc_colors[0]), (j_sigdown, volc_colors[5])],
        j_labels, j_counts, 1.3, dict(tx=370, ty=862.3, mx=372.7, txt=379.3, ys=ys_i), (231, 888), (305.7, 966.7, 'log2(Adult MMD/Adult HC)'))


# ---------- Heatmaps ----------
def heatmap(blocks_x, blocks_y, vals, rows, ann_y, age, gender, group, label_x, vmax, cb, fs):
    norm = Normalize(-2.0, vmax)
    nodes = [(max(0, min(1, (v + 2.0) / (vmax + 2.0))), c) for v, c in cmap_nodes if v <= vmax] + [(1, '#a80010')]
    cmap = LinearSegmentedColormap.from_list('hm', nodes)
    for (y0, y1), v_rows, names in zip(blocks_y, vals, rows):
        parts = [r.split() for r in v_rows]
        dy = (y1 - y0) / len(names)
        for j, (x0, x1) in enumerate(blocks_x):
            m = np.array([[-1.7 + .55 * int(ch) for ch in p[j]] for p in parts])
            ax = axpx(x0, y0, x1, y1)
            ax.pcolormesh(m[::-1], cmap=cmap, norm=norm, rasterized=True)
            ax.axis('off')
        for i, n in enumerate(names):
            T(label_x, y0 + dy * (i + .5), n, fontsize=fs, color='#222222')
    for (y0, y1), name, kind in zip(ann_y, ('Age', 'Gender', 'group'), (age, gender, group)):
        for j, (x0, x1) in enumerate(blocks_x):
            ax = axpx(x0, y0, x1, y1)
            cells = kind[j]
            if name == 'Age':
                ax.pcolormesh(np.array([cells]), cmap=age_cmap, norm=Normalize(5, 40))
            else:
                rgb = np.array([[to_rgba(SWATCH[c]) for c in cells]])
                ax.imshow(rgb, aspect='auto', interpolation='nearest')
            ax.axis('off')
        T(label_x, (y0 + y1) / 2, name, fontsize=fs, fontweight='bold', color='#111111')
    cax = axpx(*cb['rect'])
    cbar = fig.colorbar(ScalarMappable(norm=norm, cmap=cmap), cax=cax, ticks=[-1, 0, 1, 2, 3])
    cbar.outline.set_visible(False)
    cbar.ax.tick_params(labelsize=4, length=0, pad=2, labelcolor='#333333')
    cbar.ax.set_yticklabels(['-1', '0', '1', '2', '3'])
    sx0, sx1 = cb['sw']

    def sw(y0, y1, c):
        ov.add_patch(Rectangle((sx0, y0), sx1 - sx0, y1 - y0, fc=c, ec='none'))
    T(sx0, cb['age_t'], 'Age', fontsize=3.95, fontweight='bold', color='#222222')
    edges = cb['age_y']
    for i, c in enumerate(['#2166ac', '#a6cde3', '#f4b49b', '#b2182b']):
        sw(edges[0] + (edges[1] - edges[0]) * i / 4, edges[0] + (edges[1] - edges[0]) * (i + 1) / 4, c)
    T(sx1 + 2, cb['age_l'][0], '40', fontsize=3.95, color='#333333')
    T(sx1 + 2, cb['age_l'][1], '5', fontsize=3.95, color='#333333')
    T(sx0, cb['gen_t'], 'Gender', fontsize=3.95, fontweight='bold', color='#222222')
    edges = cb['gen_y']
    for i, (c, n) in enumerate(zip(['#1f77b4', '#ff7f0e'], ['Male', 'Female'])):
        a = edges[0] + (edges[1] - edges[0]) * i / 2; b = edges[0] + (edges[1] - edges[0]) * (i + 1) / 2
        sw(a, b, c); T(sx1 + 2, (a + b) / 2, n, fontsize=3.95, color='#333333')
    T(sx0, cb['grp_t'], 'group', fontsize=3.95, fontweight='bold', color='#222222')
    edges = cb['grp_y']
    for i, (c, n) in enumerate(zip(['#1f77b4', '#ff7f0e', '#2ca02c'], pca_groups)):
        a = edges[0] + (edges[1] - edges[0]) * i / 3; b = edges[0] + (edges[1] - edges[0]) * (i + 1) / 3
        sw(a, b, c); T(sx1 + 2, (a + b) / 2, n, fontsize=3.95, color='#333333')


heatmap([(486.7, 512.7), (515, 545.3), (547.3, 569.3)], [(55.7, 331.7), (333.3, 369), (371, 442.7)],
        [k_vals_1, k_vals_2, k_vals_3], [k_rows_1, k_rows_2, k_rows_3],
        [(36.7, 42), (42.7, 48), (49, 54.3)], k_age, k_gender, k_group, 571, 3.4,
        dict(rect=(730.7, 36, 735.7, 113.3), sw=(746.3, 754.3), age_t=38.3, age_y=(42.3, 75.3), age_l=(46, 71), gen_t=83.3, gen_y=(87.7, 104.3), grp_t=112.3, grp_y=(116.7, 141.7)), 3.72)
heatmap([(466.7, 487.3), (490, 514.3), (517, 546)], [(575.7, 710), (712, 809), (811, 990)],
        [l_vals_1, l_vals_2, l_vals_3], [l_rows_1, l_rows_2, l_rows_3],
        [(555.3, 561), (562, 567.7), (568.7, 574.3)], l_age, l_gender, l_group, 547.7, 3.74,
        dict(rect=(728.3, 555, 733.3, 637.7), sw=(745, 753.3), age_t=557.3, age_y=(562, 596.7), age_l=(566, 592.3), gen_t=605.7, gen_y=(610, 627.7), grp_t=636.7, grp_y=(641, 667.3)), 3.95)

fig.savefig('out.png', dpi=100)
